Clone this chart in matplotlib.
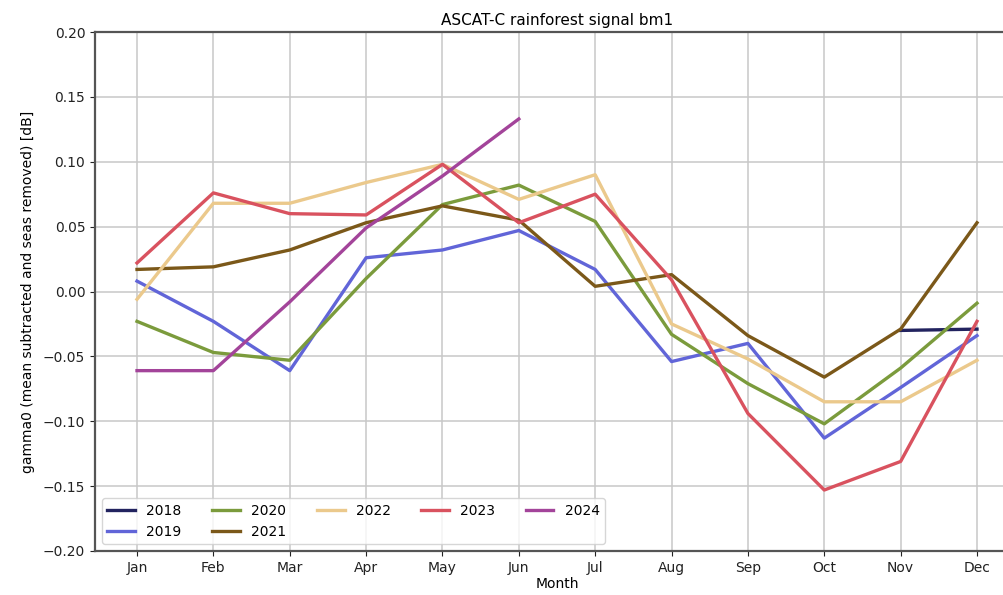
import numpy as np
import matplotlib
matplotlib.use('Agg')
import matplotlib.pyplot as plt

# Monthly signal per year (NaN where no data)
months = ['Jan', 'Feb', 'Mar', 'Apr', 'May', 'Jun', 'Jul', 'Aug', 'Sep', 'Oct', 'Nov', 'Dec']
nan = np.nan
y2018 = [nan, nan, nan, nan, nan, nan, nan, nan, nan, nan, -0.030, -0.029]
y2019 = [0.008, -0.023, -0.061, 0.026, 0.032, 0.047, 0.017, -0.054, -0.040, -0.113, -0.074, -0.034]
y2020 = [-0.023, -0.047, -0.053, 0.010, 0.067, 0.082, 0.054, -0.033, -0.071, -0.102, -0.059, -0.009]
y2021 = [0.017, 0.019, 0.032, 0.053, 0.066, 0.055, 0.004, 0.013, -0.034, -0.066, -0.029, 0.053]
y2022 = [-0.006, 0.068, 0.068, 0.084, 0.098, 0.071, 0.090, -0.025, -0.052, -0.085, -0.085, -0.053]
y2023 = [0.022, 0.076, 0.060, 0.059, 0.098, 0.053, 0.075, 0.009, -0.094, -0.153, -0.131, -0.023]
y2024 = [-0.061, -0.061, -0.008, 0.049, 0.089, 0.133, nan, nan, nan, nan, nan, nan]

years = ['2018', '2019', '2020', '2021', '2022', '2023', '2024']
series = [y2018, y2019, y2020, y2021, y2022, y2023, y2024]
colors = ['#22235f', '#6165d8', '#7b9b3c', '#7b5819', '#ebc98c', '#d9525f', '#a3449a']


def main():
    fig = plt.figure(figsize=(10.04, 5.95), dpi=100)
    # axes runs past the right edge, like the cropped original
    ax = fig.add_axes([95 / 1004, 44 / 595, 924 / 1004, 519 / 595])

    x = np.arange(1, 13)
    for name, vals, c in zip(years, series, colors):
        ax.plot(x, vals, color=c, linewidth=2.4, label=name)

    ax.set_xlim(0.45, 12.55)
    ax.set_ylim(-0.20, 0.20)
    ax.set_xticks(x)
    ax.set_xticklabels(months)
    ax.set_yticks(np.round(np.arange(-0.20, 0.201, 0.05), 2))
    ax.tick_params(labelsize=10, colors='#222222')
    ax.grid(True, color='#c8c8c8', linewidth=1.1)
    for s in ax.spines.values():
        s.set_color('#555555')
        s.set_linewidth(1.6)
    ax.spines['right'].set_visible(False)

    ax.set_title('ASCAT-C rainforest signal bm1', fontsize=11, pad=5)
    ax.set_xlabel('Month', fontsize=10, labelpad=2)
    ax.set_ylabel('gamma0 (mean subtracted and seas removed) [dB]', fontsize=10, labelpad=6)

    ax.legend(loc='lower left', ncol=5, fontsize=10, columnspacing=2.2,
              handlelength=2.0, borderaxespad=0.5)

    fig.savefig('out.png', dpi=100)


if __name__ == '__main__':
    main()
